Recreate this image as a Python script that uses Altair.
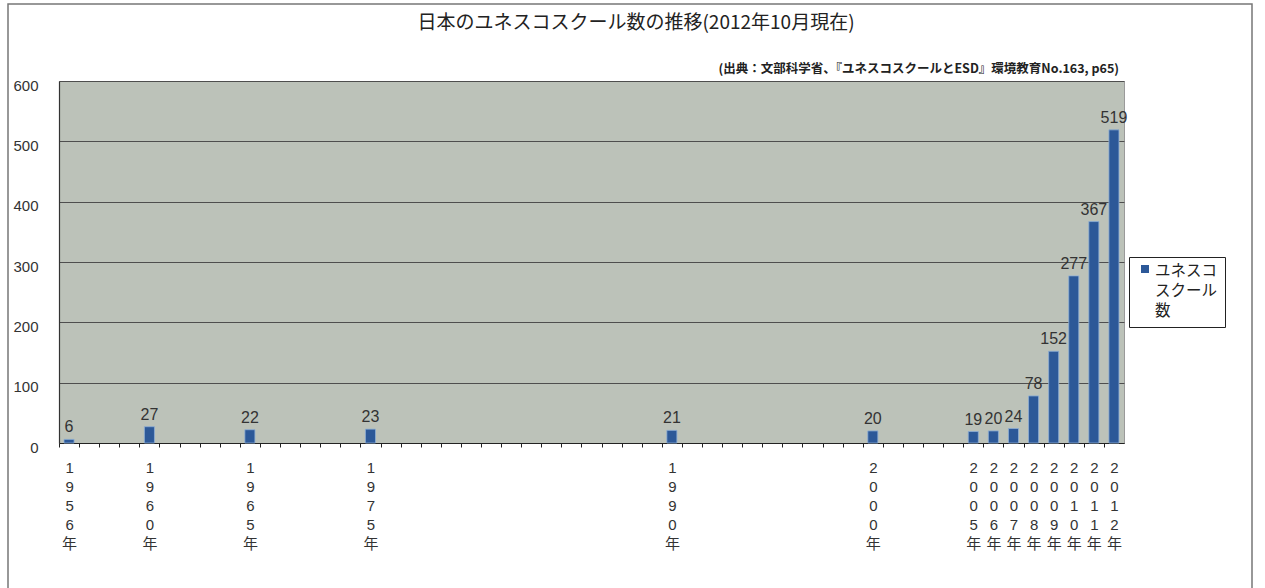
import json
import altair as alt
import pandas as pd

# ---- data ----
years = ["1956年", "1960年", "1965年", "1975年", "1990年", "2000年", "2005年",
         "2006年", "2007年", "2008年", "2009年", "2010年", "2011年", "2012年"]
schools = [6, 27, 22, 23, 21, 20, 19, 20, 24, 78, 152, 277, 367, 519]
# category slot of each year on the original category axis (blank categories in between)
slot_of_year = [0, 4, 9, 15, 30, 40, 45, 46, 47, 48, 49, 50, 51, 52]
n_slots = 53
series_name = "ユネスコスクール数"
legend_lines = ["ユネスコ", "スクール", "数"]
title_text = "日本のユネスコスクール数の推移(2012年10月現在)"
source_text = "(出典：文部科学省、『ユネスコスクールとESD』環境教育No.163, p65)"
y_ticks = [0, 100, 200, 300, 400, 500, 600]

slot_labels = [""] * n_slots
for s, yv in zip(slot_of_year, years):
    slot_labels[s] = yv

df = pd.DataFrame({"slot": slot_of_year, "year": years, "count": schools,
                   "series": [series_name] * len(years)})
one = pd.DataFrame({"a": [0]})

W, H = 1065, 362
step = W / n_slots

label_js = json.dumps(slot_labels, ensure_ascii=False)
FONT = "Liberation Sans, Noto Sans CJK JP, sans-serif"
JFONT = "Noto Sans CJK JP, sans-serif"

x = alt.X(
    "slot:O",
    scale=alt.Scale(domain=list(range(n_slots)), paddingInner=0.5, paddingOuter=0.25),
    axis=alt.Axis(
        title=None, labelAngle=0, labelOverlap=False,
        labelExpr=f"split({label_js}[datum.value], '')",
        tickSize=4, tickOffset=-step / 2, labelOffset=step / 2,
        tickColor="#222", domainColor="#222", domainWidth=1.2,
        labelFont=FONT, labelFontSize=15, labelLineHeight=19,
        labelPadding=13, labelColor="#333", labelBaseline="top",
    ),
)
y = alt.Y(
    "count:Q",
    scale=alt.Scale(domain=[0, 600]),
    axis=alt.Axis(
        title=None, values=y_ticks, grid=True, gridColor="#4e4e4e", gridWidth=1.2,
        tickSize=0, domainColor="#333", domainWidth=1.2,
        labelFont=FONT, labelFontSize=15, labelColor="#333", labelPadding=21,
        labelOffset=4,
    ),
)

bars = alt.Chart(df).mark_bar(stroke="#8eaed6", strokeWidth=0.8).encode(
    x=x, y=y,
    color=alt.Color(
        "series:N", scale=alt.Scale(range=["#2c5898"]),
        legend=alt.Legend(
            title=legend_lines, titleOrient="right", titleAnchor="start",
            titleBaseline="top", titleLineHeight=20, titleFont=JFONT,
            titleFontSize=15.5, titleFontWeight="normal", titleColor="#222",
            titlePadding=5,
            labelExpr="''", labelOffset=0,
            orient="none", legendX=1070, legendY=176,
            strokeColor="#222", fillColor="white", padding=7,
            symbolType="square", symbolSize=64, symbolStrokeWidth=0,
            symbolOffset=4,
        ),
    ),
)

values = alt.Chart(df).mark_text(
    baseline="bottom", dy=-4, font=FONT, fontSize=16, color="#333"
).encode(x=x, y=y, text="count:Q")

title = alt.Chart(one).mark_text(
    align="center", baseline="middle", font=JFONT, fontSize=19, color="#222"
).encode(x=alt.value(636 - 59), y=alt.value(23 - 81), text=alt.value(title_text))

source = alt.Chart(one).mark_text(
    align="right", baseline="middle", font=JFONT, fontSize=12.5,
    fontWeight="bold", color="#222"
).encode(x=alt.value(1119 - 59), y=alt.value(69 - 81), text=alt.value(source_text))

frame = alt.Chart(one).mark_rect(
    filled=False, stroke="#777", strokeWidth=1.5
).encode(x=alt.value(-51), x2=alt.value(1193), y=alt.value(-77), y2=alt.value(520))

chart = alt.layer(frame, bars, values, title, source).properties(
    width=W, height=H,
    background="white",
    padding={"left": 59, "top": 81, "right": 141, "bottom": 145},
    autosize=alt.AutoSizeParams(type="none"),
).configure_view(fill="#bcc2b9", stroke="#9a9a9a", strokeWidth=1)

chart.save("out.html", embed_options={"renderer": "svg", "actions": False})
